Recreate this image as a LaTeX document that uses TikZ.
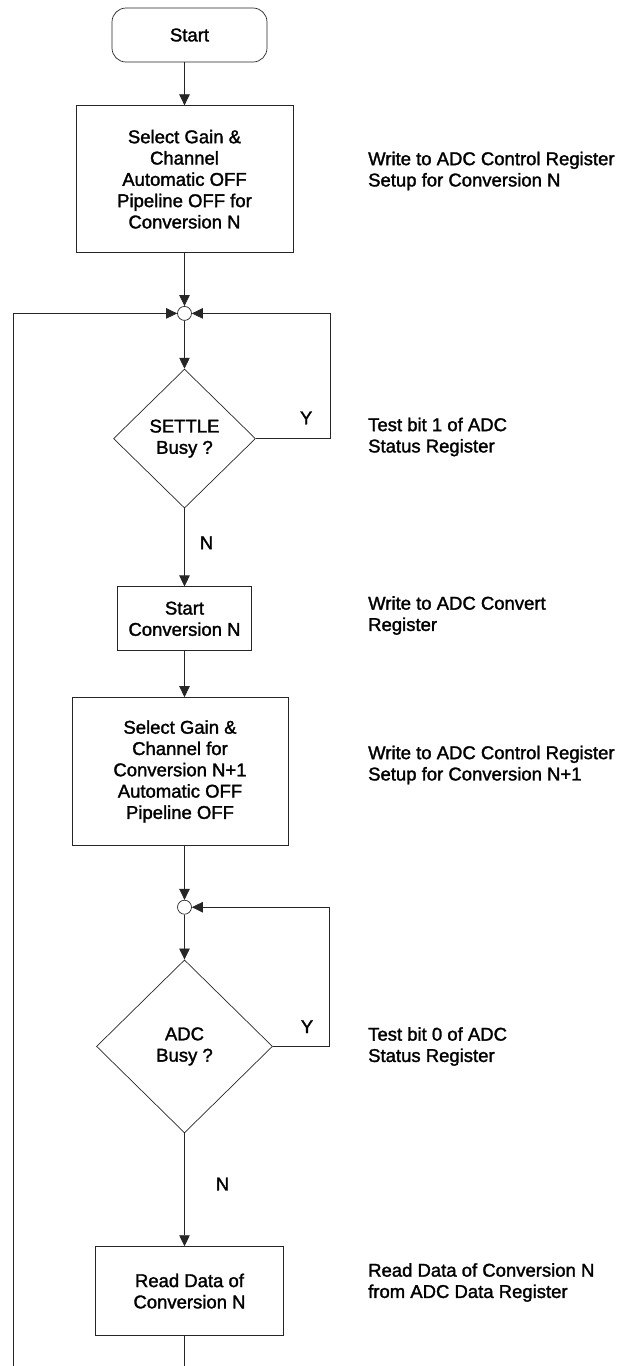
\documentclass[tikz,border=0pt]{standalone}
\usepackage{fontspec}
\setmainfont{Liberation Sans}[FakeBold=1.6]
\usetikzlibrary{arrows.meta,positioning,shapes.geometric}

\begin{document}
\begin{tikzpicture}[
    x=1pt, y=-1pt,
    every node/.style={font=\fontsize{18.5}{21.3}\selectfont},
    box/.style={draw=black!85, line width=0.7pt, align=center, inner sep=0pt},
    dec/.style={draw=black!85, line width=0.7pt, diamond, align=center, inner sep=0pt},
    junc/.style={draw=black!85, line width=0.7pt, circle, fill=white, minimum size=14pt, inner sep=0pt},
    note/.style={anchor=west, align=left, inner sep=0pt},
    lbl/.style={inner sep=0pt},
    arr/.style={-{Triangle[length=11pt, width=10.5pt]}, line width=0.7pt, draw=black!85},
    ln/.style={line width=0.7pt, draw=black!85}
  ]
    \useasboundingbox (0,0) rectangle (624,1366);
    \node[box, rounded corners=14pt, minimum width=155pt, minimum height=54pt] (start) at (189.5,35) {Start};
    \node[box, minimum width=217pt, minimum height=147pt, below=43pt of start, xshift=-5pt] (selN)
      {Select Gain \&\\Channel\\Automatic OFF\\Pipeline OFF for\\Conversion N};
    \node[junc, below=53pt of selN] (j1) {};
    \node[dec, minimum width=142pt, minimum height=139pt, below=48pt of j1] (settle) {SETTLE\\Busy ?};
    \node[box, minimum width=134pt, minimum height=64pt, below=78pt of settle] (conv) {Start\\Conversion N};
    \node[box, minimum width=216pt, minimum height=148pt, below=46pt of conv, xshift=-4.5pt] (selN1)
      {Select Gain \&\\Channel for\\Conversion N+1\\Automatic OFF\\Pipeline OFF};
    \node[junc, below=54pt of selN1, xshift=4.5pt] (j2) {};
    \node[dec, minimum width=176pt, minimum height=173pt, below=45pt of j2] (adcbusy) {ADC\\Busy ?};
    \node[box, minimum width=188pt, minimum height=89pt, below=113pt of adcbusy, xshift=5pt] (readd)
      {Read Data of\\Conversion N};

    % register notes
    \node[note] (n1) at (368,171) {Write to ADC Control Register\\Setup for Conversion N};
    \node[note] (n2) at (368,437) {Test bit 1 of ADC\\Status Register};
    \node[note] (n3) at (368,615.5) {Write to ADC Convert\\Register};
    \node[note] (n4) at (368,765) {Write to ADC Control Register\\Setup for Conversion N+1};
    \node[note] (n5) at (368,1046.5) {Test bit 0 of ADC\\Status Register};
    \node[note] (n6) at (368,1282.5) {Read Data of Conversion N\\from ADC Data Register};

    \coordinate (loopL) at (13,1366);
    \coordinate (botR) at (184.5,1366);

    \draw[arr] (start.south -| j1) -- (selN.north -| j1);
    \draw[arr] (selN.south -| j1) -- (j1.north);
    \draw[arr] (j1.south) -- (settle.north);
    \draw[arr] (settle.south) -- node[lbl, pos=0.44, right=15pt] {N} (conv.north -| settle);
    \draw[arr] (settle.east) -- node[lbl, pos=0.68, above=14pt] {Y} ++(74,0) |- (j1.east);
    \draw[arr] (conv.south -| j1) -- (selN1.north -| j1);
    \draw[arr] (selN1.south -| j2) -- (j2.north);
    \draw[arr] (j2.south) -- (adcbusy.north);
    \draw[arr] (adcbusy.south) -- node[lbl, pos=0.45, right=31pt] {N} (readd.north -| adcbusy);
    \draw[arr] (adcbusy.east) -- node[lbl, pos=0.61, above=13pt] {Y} ++(56,0) |- (j2.east);
    \draw[arr] (loopL) |- (j1.west);
    \draw[ln] (readd.south -| j2) -- (botR);
  \end{tikzpicture}
\end{document}
